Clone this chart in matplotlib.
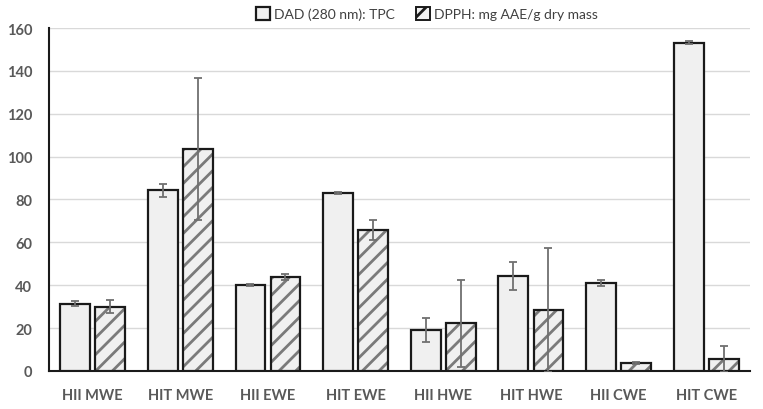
import matplotlib.pyplot as plt
import numpy as np

# values
categories = ['HII MWE', 'HIT MWE', 'HII EWE', 'HIT EWE',
              'HII HWE', 'HIT HWE', 'HII CWE', 'HIT CWE']
tpc = [31.3, 84.3, 40.1, 83.2, 19.1, 44.2, 41.0, 153.2]
tpc_err = [1.1, 3.1, 0.5, 0.5, 5.5, 6.6, 1.2, 0.8]
dpph = [29.9, 103.5, 43.7, 65.8, 22.2, 28.4, 3.7, 5.4]
dpph_err = [3.0, 33.0, 1.5, 4.6, 20.2, 29.0, 0.3, 6.0]
yticks = [0, 20, 40, 60, 80, 100, 120, 140, 160]

plt.rcParams['font.family'] = ['Lato', 'DejaVu Sans']
plt.rcParams['hatch.linewidth'] = 2.0

fig = plt.figure(figsize=(7.63, 4.10), dpi=100)
ax = fig.add_axes([0.064, 0.093, 0.919, 0.836])

x = np.arange(len(categories))
w = 0.34
gap = 0.03
err_kw = dict(ecolor='#707070', elinewidth=1.3, capsize=3, capthick=1.3)

ax.bar(x - w / 2 - gap, tpc, w, yerr=tpc_err, color='#f0f0f0',
       edgecolor='#1a1a1a', linewidth=1.6, error_kw=err_kw, zorder=3,
       label='DAD (280 nm): TPC')
# hatched fill in grey, then a black outline on top
ax.bar(x + w / 2 + gap, dpph, w, color='#f0f0f0', edgecolor='#7a7a7a',
       linewidth=0, hatch='//', zorder=3, label='DPPH: mg AAE/g dry mass')
ax.bar(x + w / 2 + gap, dpph, w, yerr=dpph_err, fill=False,
       edgecolor='#1a1a1a', linewidth=1.6, error_kw=err_kw, zorder=4)

ax.set_xlim(-0.5, len(categories) - 0.5)
ax.set_ylim(0, 160)
ax.set_yticks(yticks)
ax.set_xticks(x)
ax.set_xticklabels(categories)
ax.grid(axis='y', color='#d9d9d9', linewidth=1, zorder=0)
ax.tick_params(axis='both', length=0, labelsize=10.5, labelcolor='#595959')
for lbl in ax.get_xticklabels() + ax.get_yticklabels():
    lbl.set_fontweight('bold')
ax.tick_params(axis='y', pad=12)
ax.tick_params(axis='x', pad=12)

for s in ['top', 'right']:
    ax.spines[s].set_visible(False)
ax.spines['left'].set_linewidth(1.5)
ax.spines['bottom'].set_linewidth(1.5)
ax.spines['left'].set_color('#1a1a1a')
ax.spines['bottom'].set_color('#1a1a1a')

leg = fig.legend(loc='upper center', bbox_to_anchor=(0.56, 1.01), ncol=2,
                 frameon=False, fontsize=10, handlelength=1.0,
                 handleheight=1.0, handletextpad=0.3, columnspacing=1.5)
leg.legend_handles[1].set_edgecolor('#1a1a1a')
leg.legend_handles[1].set_linewidth(1.4)
for t in leg.get_texts():
    t.set_color('#404040')

fig.savefig('out.png', dpi=100)
